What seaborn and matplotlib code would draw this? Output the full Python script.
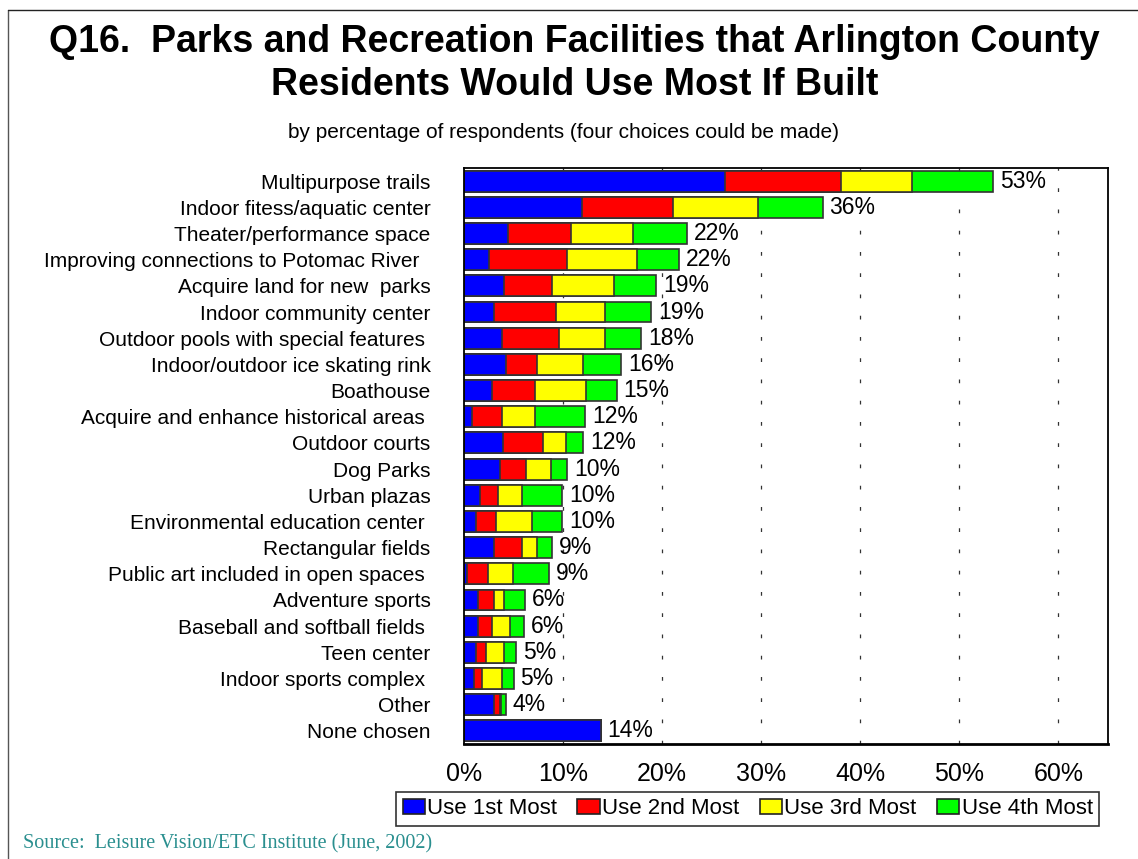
import pandas as pd
import seaborn as sns
import matplotlib.pyplot as plt
import numpy as np

# categories, top to bottom
facilities = ['Multipurpose trails', 'Indoor fitess/aquatic center', 'Theater/performance space',
              'Improving connections to Potomac River  ', 'Acquire land for new  parks',
              'Indoor community center', 'Outdoor pools with special features ',
              'Indoor/outdoor ice skating rink', 'Boathouse', 'Acquire and enhance historical areas ',
              'Outdoor courts', 'Dog Parks', 'Urban plazas', 'Environmental education center ',
              'Rectangular fields', 'Public art included in open spaces ', 'Adventure sports',
              'Baseball and softball fields ', 'Teen center', 'Indoor sports complex ', 'Other',
              'None chosen']

# percentages
use_1st = [26.3, 11.9, 4.4, 2.5, 4.0, 3.0, 3.8, 4.2, 2.8, 0.8, 3.9, 3.6, 1.6, 1.2, 3.0, 0.3,
           1.4, 1.4, 1.2, 1.0, 3.0, 13.8]
use_2nd = [11.8, 9.2, 6.4, 7.9, 4.9, 6.3, 5.8, 3.2, 4.4, 3.0, 4.1, 2.7, 1.8, 2.0, 2.9, 2.1,
           1.6, 1.4, 1.0, 0.8, 0.6, 0.0]
use_3rd = [7.1, 8.6, 6.3, 7.1, 6.2, 4.9, 4.6, 4.6, 5.1, 3.4, 2.3, 2.5, 2.5, 3.7, 1.5, 2.5,
           1.0, 1.8, 1.8, 2.0, 0.1, 0.0]
use_4th = [8.2, 6.5, 5.4, 4.2, 4.3, 4.7, 3.7, 3.9, 3.1, 5.0, 1.7, 1.6, 4.0, 3.0, 1.5, 3.7,
           2.2, 1.5, 1.3, 1.2, 0.5, 0.0]
totals = ['53%', '36%', '22%', '22%', '19%', '19%', '18%', '16%', '15%', '12%', '12%', '10%',
          '10%', '10%', '9%', '9%', '6%', '6%', '5%', '5%', '4%', '14%']

series = ['Use 1st Most', 'Use 2nd Most', 'Use 3rd Most', 'Use 4th Most']
colors = ['#0000FF', '#FF0000', '#FFFF00', '#00FF00']

df = pd.DataFrame({'facility': facilities, 'Use 1st Most': use_1st, 'Use 2nd Most': use_2nd,
                   'Use 3rd Most': use_3rd, 'Use 4th Most': use_4th})
cum = df[series].cumsum(axis=1)
cum['facility'] = df['facility']

sns.set_style('white')
plt.rcParams['font.family'] = ['Liberation Sans', 'DejaVu Sans']
plt.rcParams['text.color'] = 'black'
plt.rcParams['xtick.color'] = 'black'
plt.rcParams['ytick.color'] = 'black'

fig = plt.figure(figsize=(11.38, 8.59), dpi=100)
ax = fig.add_axes([0.4077, 0.1339, 0.5659, 0.6705])

# stacked bars: draw cumulative totals from the longest down
for s, c in reversed(list(zip(series, colors))):
    sns.barplot(data=cum, x=s, y='facility', color=c, orient='h', width=0.8,
                edgecolor='#333333', linewidth=1.2, saturation=1, ax=ax)

for i, (v, t) in enumerate(zip(cum['Use 4th Most'], totals)):
    ax.annotate(t, (v, i), xytext=(5, 0), textcoords='offset points', va='center', ha='left',
                fontsize=16.5, color='black')

ax.set_xlim(0, 65)
ax.set_xticks(np.arange(0, 61, 10))
ax.set_xticklabels(['%d%%' % x for x in range(0, 61, 10)], fontsize=18)
ax.set_xlabel('')
ax.set_ylabel('')
ax.tick_params(axis='x', length=0, pad=13)
ax.tick_params(axis='y', length=0, pad=24, labelsize=15)
for x in range(10, 61, 10):
    ax.axvline(x, color='#333333', linestyle=(0, (3, 14)), linewidth=0.9, zorder=0)
for sp in ax.spines.values():
    sp.set_visible(True)
    sp.set_color('black')
    sp.set_linewidth(1.3)
ax.spines['bottom'].set_linewidth(2)

handles = [plt.Rectangle((0, 0), 1, 1, facecolor=c, edgecolor='#222222', linewidth=1.2) for c in colors]
leg = fig.legend(handles, series, loc='center', bbox_to_anchor=(0.657, 0.0585), ncol=4, fontsize=16,
                 frameon=True, fancybox=False, edgecolor='black', handlelength=1.0, handleheight=0.7,
                 handletextpad=0.12, columnspacing=0.9, borderpad=0.3, borderaxespad=0)
leg.get_frame().set_linewidth(1.2)

fig.text(0.505, 0.951, 'Q16.  Parks and Recreation Facilities that Arlington County',
         ha='center', va='center', fontsize=27, fontweight='bold')
fig.text(0.505, 0.901, 'Residents Would Use Most If Built', ha='center', va='center',
         fontsize=27, fontweight='bold')
fig.text(0.495, 0.846, 'by percentage of respondents (four choices could be made)',
         ha='center', va='center', fontsize=15)
fig.text(0.02, 0.006, 'Source:  Leisure Vision/ETC Institute (June, 2002)', ha='left', va='bottom',
         fontsize=14.5, color='#2a8f8f', family='Liberation Serif')

# page border on the left and top
fig.add_artist(plt.Line2D([0.007, 0.007], [0, 0.988], color='#555555', linewidth=1))
fig.add_artist(plt.Line2D([0.007, 1], [0.988, 0.988], color='#222222', linewidth=1))

fig.savefig('out.png', dpi=100)
